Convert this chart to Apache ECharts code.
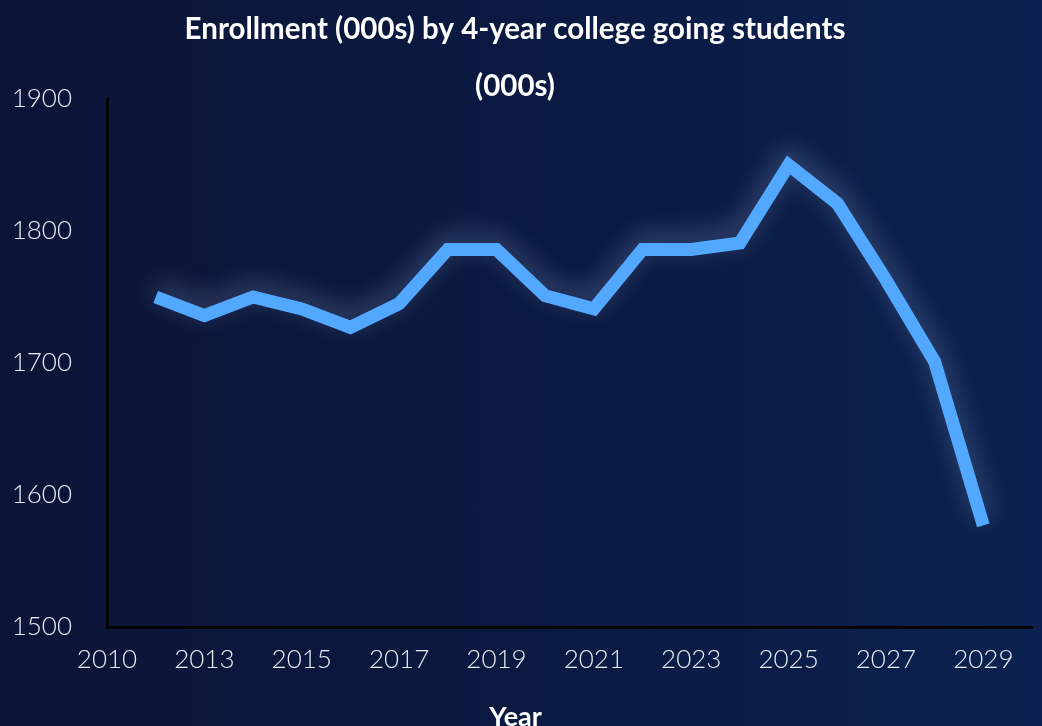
<!DOCTYPE html>
<html>
<head>
<meta charset="utf-8">
<script src="https://cdn.jsdelivr.net/npm/echarts@6/dist/echarts.min.js"></script>
<style>
  html, body { margin: 0; padding: 0; }
  #chart {
    width: 1042px;
    height: 726px;
    background: linear-gradient(90deg, #0b1537 0%, #0b1a42 55%, #0b2250 100%);
  }
</style>
</head>
<body>
<div id="chart"></div>
<script>
// axis runs 2011..2030, first tick is labelled "2010" in the source chart
const years = ["2011", "2012", "2013", "2014", "2015", "2016", "2017", "2018", "2019", "2020",
  "2021", "2022", "2023", "2024", "2025", "2026", "2027", "2028", "2029", "2030"];
const firstTickLabel = "2010";
const enrollment = [null, 1750, 1736, 1750, 1741, 1727, 1745, 1786, 1786, 1751,
  1741, 1786, 1786, 1791, 1850, 1821, 1763, 1701, 1577, null];

const chart = echarts.init(document.getElementById("chart"));

const option = {
  backgroundColor: "transparent",
  textStyle: { fontFamily: "Lato" },
  title: {
    text: "Enrollment (000s) by 4-year college going students\n(000s)",
    left: 515,
    textAlign: "center",
    top: 1,
    padding: 0,
    textStyle: {
      color: "#ffffff",
      fontSize: 29.5,
      fontWeight: "bold",
      fontFamily: "Lato",
      lineHeight: 57,
    },
  },
  grid: {
    left: 107,
    right: 10,
    top: 99,
    bottom: 99,
    containLabel: false,
    outerBoundsMode: "none",
  },
  xAxis: {
    type: "category",
    data: years,
    boundaryGap: false,
    name: "Year",
    nameLocation: "middle",
    nameGap: 77,
    nameTextStyle: {
      color: "#ffffff",
      fontSize: 27,
      fontWeight: "bold",
      padding: [0, 108, 0, 0],
    },
    axisLine: {
      lineStyle: { color: "#000000", width: 3 },
    },
    axisTick: { show: false },
    axisLabel: {
      interval: 1,
      color: "#e8ecf4",
      fontSize: 26,
      fontWeight: 300,
      margin: 20,
      formatter: (v, i) => (i === 0 ? firstTickLabel : v),
    },
    splitLine: { show: false },
  },
  yAxis: {
    type: "value",
    min: 1500,
    max: 1900,
    interval: 100,
    axisLine: {
      show: true,
      lineStyle: { color: "#000000", width: 3 },
    },
    axisTick: { show: false },
    axisLabel: {
      color: "#e8ecf4",
      fontSize: 26,
      fontWeight: 300,
      margin: 35,
      formatter: (v) => String(v),
    },
    splitLine: { show: false },
  },
  series: [
    {
      type: "line",
      data: enrollment,
      symbol: "none",
      smooth: false,
      connectNulls: false,
      lineStyle: {
        color: "#52a8ff",
        width: 13,
        cap: "butt",
        join: "miter",
        shadowColor: "rgba(200, 215, 255, 0.3)",
        shadowBlur: 24,
        shadowOffsetY: -8,
      },
    },
  ],
};

chart.setOption(option);
window.addEventListener("resize", () => {
  chart && chart.resize();
});
</script>
</body>
</html>
